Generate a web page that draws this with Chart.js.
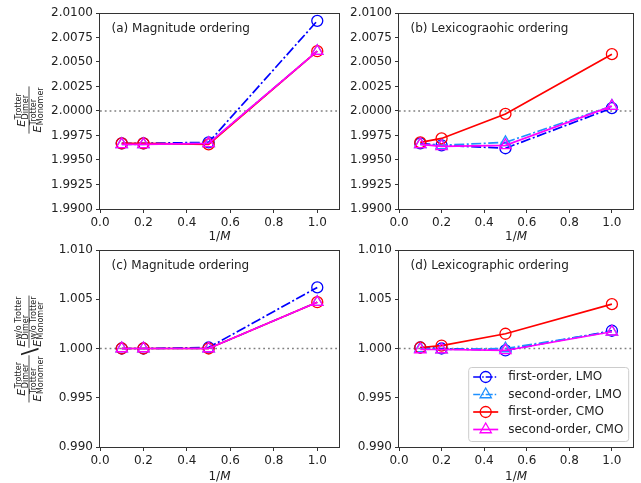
<!DOCTYPE html>
<html>
<head>
<meta charset="utf-8">
<script src="https://cdn.jsdelivr.net/npm/chart.js@4.4.1/dist/chart.umd.min.js"></script>
<style>
  body { margin: 0; background: #fff; }
  #wrap { position: relative; width: 641px; height: 483px; }
  canvas { position: absolute; left: 0; top: 0; }
</style>
</head>
<body>
<div id="wrap">
  <canvas id="ca" width="641" height="483"></canvas>
  <canvas id="cb" width="641" height="483"></canvas>
  <canvas id="cc" width="641" height="483"></canvas>
  <canvas id="cd" width="641" height="483"></canvas>
</div>
<script>
// data
var invM = [0.1, 0.2, 0.5, 1.0];
var xTicks = [0.0, 0.2, 0.4, 0.6, 0.8, 1.0];
var xMax = 1.1;
var yTicksTop = [1.9900, 1.9925, 1.9950, 1.9975, 2.0000, 2.0025, 2.0050, 2.0075, 2.0100];
var yTicksBottom = [0.990, 0.995, 1.000, 1.005, 1.010];

var seriesNames = ['first-order, LMO', 'second-order, LMO', 'first-order, CMO', 'second-order, CMO'];

// (a) magnitude ordering, Trotter ratio
var aFirstLMO  = [1.9967, 1.9967, 1.9968, 2.0092];
var aSecondLMO = [1.9966, 1.9966, 1.9967, 2.0061];
var aFirstCMO  = [1.9967, 1.9967, 1.9966, 2.0061];
var aSecondCMO = [1.9966, 1.9966, 1.9967, 2.0061];
// (b) lexicographic ordering, Trotter ratio
var bFirstLMO  = [1.9967, 1.9965, 1.9962, 2.0003];
var bSecondLMO = [1.9966, 1.9965, 1.9968, 2.0005];
var bFirstCMO  = [1.9968, 1.9972, 1.9997, 2.0058];
var bSecondCMO = [1.9966, 1.9964, 1.9965, 2.0005];
// (c) magnitude ordering, normalised
var cFirstLMO  = [1.0000, 1.0000, 1.0001, 1.0062];
var cSecondLMO = [1.0000, 1.0000, 1.0000, 1.0047];
var cFirstCMO  = [1.0000, 1.0000, 1.0000, 1.0047];
var cSecondCMO = [1.0000, 1.0000, 1.0000, 1.0047];
// (d) lexicographic ordering, normalised
var dFirstLMO  = [1.0001, 1.0000, 0.9998, 1.0018];
var dSecondLMO = [1.0000, 0.9999, 1.0000, 1.0017];
var dFirstCMO  = [1.0001, 1.0003, 1.0015, 1.0045];
var dSecondCMO = [0.9999, 0.9999, 0.9998, 1.0017];

// styles
var dashDot = [10, 2.5, 2, 2.5];
var seriesStyle = [
    { color: '#0000ff', dash: dashDot, point: 'circle', r: 5.5 },
    { color: '#1e90ff', dash: dashDot, point: 'triangle', r: 6.5 },
    { color: '#ff0000', dash: [], point: 'circle', r: 5.5 },
    { color: '#ff00ff', dash: [], point: 'triangle', r: 6.5 }
];
var FONT = '"DejaVu Sans", sans-serif';
var TEXT = '#222';

window.onload = function () {
    drawPanel('ca', {
        series: [aFirstLMO, aSecondLMO, aFirstCMO, aSecondCMO], ref: 2.0,
        yTicks: yTicksTop, digits: 4, yWidth: 100,
        pad: { left: 0, right: 302, top: 13, bottom: 243 },
        title: '(a) Magnitude ordering', yLabel: 'top', labelCY: 110, xLabelY: 237
    });
    drawPanel('cb', {
        series: [bFirstLMO, bSecondLMO, bFirstCMO, bSecondCMO], ref: 2.0,
        yTicks: yTicksTop, digits: 4, yWidth: 54,
        pad: { left: 345, right: 4, top: 13, bottom: 243 },
        title: '(b) Lexicograohic ordering', xLabelY: 237
    });
    drawPanel('cc', {
        series: [cFirstLMO, cSecondLMO, cFirstCMO, cSecondCMO], ref: 1.0,
        yTicks: yTicksBottom, digits: 3, yWidth: 100,
        pad: { left: 0, right: 302, top: 250, bottom: 5 },
        title: '(c) Magnitude ordering', yLabel: 'bottom', labelCY: 349, xLabelY: 477
    });
    drawPanel('cd', {
        series: [dFirstLMO, dSecondLMO, dFirstCMO, dSecondCMO], ref: 1.0,
        yTicks: yTicksBottom, digits: 3, yWidth: 54,
        pad: { left: 345, right: 4, top: 250, bottom: 5 },
        title: '(d) Lexicographic ordering', legend: true, xLabelY: 477
    });
}

function drawPanel(id, cfg) {
    var datasets = cfg.series.map(function (vals, i) {
        var st = seriesStyle[i];
        return {
            label: seriesNames[i],
            data: invM.map(function (x, k) { return { x: x, y: vals[k] }; }),
            borderColor: st.color,
            borderWidth: 1.7,
            borderDash: st.dash,
            pointStyle: st.point,
            pointRadius: st.r,
            pointBorderColor: st.color,
            pointBackgroundColor: 'rgba(0,0,0,0)',
            pointBorderWidth: 1.3,
            tension: 0,
            clip: false,
            order: 3 - i
        };
    });
    // dotted reference line
    datasets.push({
        label: 'ref',
        data: [{ x: 0, y: cfg.ref }, { x: xMax, y: cfg.ref }],
        borderColor: '#808080',
        borderWidth: 1.5,
        borderDash: [1.8, 3],
        pointRadius: 0,
        order: 10
    });

    var yMin = cfg.yTicks[0], yMax = cfg.yTicks[cfg.yTicks.length - 1];

    new Chart(document.getElementById(id), {
        type: 'line',
        data: { datasets: datasets },
        options: {
            responsive: false,
            animation: false,
            devicePixelRatio: 1,
            events: [],
            layout: { padding: cfg.pad },
            plugins: { legend: { display: false }, tooltip: { enabled: false } },
            scales: {
                x: {
                    type: 'linear', min: 0, max: xMax,
                    afterBuildTicks: function (s) { s.ticks = xTicks.map(function (v) { return { value: v }; }); },
                    afterFit: function (s) { s.height = 31; },
                    grid: { drawOnChartArea: false, drawTicks: true, tickLength: 4, tickColor: '#333', tickWidth: 1 },
                    border: { display: false },
                    ticks: {
                        padding: 3, color: TEXT, font: { family: FONT, size: 12 }, maxRotation: 0,
                        callback: function (v) { return Number(v).toFixed(1); }
                    }
                },
                y: {
                    type: 'linear', min: yMin, max: yMax,
                    afterBuildTicks: function (s) { s.ticks = cfg.yTicks.map(function (v) { return { value: v }; }); },
                    afterFit: function (s) { s.width = cfg.yWidth; },
                    grid: { drawOnChartArea: false, drawTicks: true, tickLength: 4, tickColor: '#333', tickWidth: 1 },
                    border: { display: false },
                    ticks: {
                        padding: 3, color: TEXT, font: { family: FONT, size: 12 },
                        callback: function (v) { return Number(v).toFixed(cfg.digits); }
                    }
                }
            }
        },
        plugins: [decor(cfg)]
    });
}

// E with stacked super/subscript, returns its width
function drawE(ctx, x, y, sup, sub, measureOnly) {
    ctx.font = 'italic 11px ' + FONT;
    var ew = ctx.measureText('E').width;
    if (!measureOnly) ctx.fillText('E', x, y);
    ctx.font = '8px ' + FONT;
    var sw = Math.max(ctx.measureText(sup).width, ctx.measureText(sub).width);
    if (!measureOnly) {
        ctx.fillText(sup, x + ew + 0.5, y - 4.5);
        ctx.fillText(sub, x + ew + 0.5, y + 2.5);
    }
    return ew + 0.5 + sw;
}

function drawFrac(ctx, x, top, bot, measureOnly) {
    var wn = drawE(ctx, 0, 0, top[0], top[1], true);
    var wd = drawE(ctx, 0, 0, bot[0], bot[1], true);
    var w = Math.max(wn, wd) + 2;
    if (!measureOnly) {
        drawE(ctx, x + (w - wn) / 2, -3.6, top[0], top[1]);
        drawE(ctx, x + (w - wd) / 2, 11.8, bot[0], bot[1]);
        ctx.fillRect(x, -0.4, w, 0.8);
    }
    return w;
}

function drawYLabel(ctx, kind, cx, cy) {
    ctx.save();
    ctx.translate(cx, cy);
    ctx.rotate(-Math.PI / 2);
    ctx.fillStyle = TEXT;
    ctx.textBaseline = 'alphabetic';
    ctx.textAlign = 'left';
    var f1 = [['Trotter', 'Dimer'], ['Trotter', 'Monomer']];
    var f2 = [['w/o Trotter', 'Dimer'], ['w/o Trotter', 'Monomer']];
    if (kind === 'top') {
        var w = drawFrac(ctx, 0, f1[0], f1[1], true);
        drawFrac(ctx, -w / 2, f1[0], f1[1]);
    } else {
        var w1 = drawFrac(ctx, 0, f1[0], f1[1], true);
        var w2 = drawFrac(ctx, 0, f2[0], f2[1], true);
        ctx.font = '22px ' + FONT;
        var ws = ctx.measureText('\\').width;
        var total = w1 + ws + w2;
        var x0 = -total / 2;
        drawFrac(ctx, x0, f1[0], f1[1]);
        ctx.font = '22px ' + FONT;
        ctx.fillText('\\', x0 + w1, 8);
        drawFrac(ctx, x0 + w1 + ws, f2[0], f2[1]);
    }
    ctx.restore();
}

function drawLegend(ctx, a) {
    var bw = 160, bh = 74;
    var bx = a.right - 5 - bw, by = a.bottom - 6 - bh;
    ctx.save();
    ctx.beginPath();
    if (ctx.roundRect) ctx.roundRect(bx + 0.5, by + 0.5, bw, bh, 3); else ctx.rect(bx + 0.5, by + 0.5, bw, bh);
    ctx.fillStyle = 'rgba(255,255,255,0.8)';
    ctx.fill();
    ctx.strokeStyle = '#cccccc';
    ctx.lineWidth = 1;
    ctx.stroke();
    for (var i = 0; i < seriesNames.length; i++) {
        var st = seriesStyle[i];
        var y = by + 10 + i * 17.5;
        ctx.strokeStyle = st.color;
        ctx.lineWidth = 1.7;
        ctx.setLineDash(st.dash.length ? [7, 2, 1.5, 2] : []);
        ctx.beginPath();
        ctx.moveTo(bx + 5, y);
        ctx.lineTo(bx + 30, y);
        ctx.stroke();
        ctx.setLineDash([]);
        ctx.lineWidth = 1.3;
        ctx.fillStyle = 'rgba(0,0,0,0)';
        Chart.helpers.drawPoint(ctx, { pointStyle: st.point, radius: st.r, borderWidth: 1.3 }, bx + 17.5, y);
        ctx.fillStyle = TEXT;
        ctx.font = '12px ' + FONT;
        ctx.textBaseline = 'middle';
        ctx.textAlign = 'left';
        ctx.fillText(seriesNames[i], bx + 40, y);
    }
    ctx.restore();
}

function decor(cfg) {
    return {
        id: 'decor',
        afterDraw: function (chart) {
            var ctx = chart.ctx, a = chart.chartArea;
            ctx.save();
            // axes frame
            var l = Math.round(a.left) - 0.5, t = Math.round(a.top) + 0.5;
            var r = Math.round(a.right) + 0.5, b = Math.round(a.bottom) + 0.5;
            ctx.strokeStyle = '#333';
            ctx.lineWidth = 1;
            ctx.strokeRect(l, t, r - l, b - t);
            // panel title
            ctx.fillStyle = TEXT;
            ctx.font = '12px ' + FONT;
            ctx.textBaseline = 'middle';
            ctx.textAlign = 'left';
            ctx.fillText(cfg.title, a.left + 11.5, a.top + 16);
            // x label 1/M
            var cx = (a.left + a.right) / 2;
            ctx.font = '12px ' + FONT;
            var w1 = ctx.measureText('1/').width;
            ctx.font = 'italic 12px ' + FONT;
            var w2 = ctx.measureText('M').width;
            var x0 = cx - (w1 + w2) / 2;
            ctx.font = '12px ' + FONT;
            ctx.fillText('1/', x0, cfg.xLabelY);
            ctx.font = 'italic 12px ' + FONT;
            ctx.fillText('M', x0 + w1, cfg.xLabelY);
            ctx.restore();
            if (cfg.yLabel) drawYLabel(ctx, cfg.yLabel, 29, cfg.labelCY);
            if (cfg.legend) drawLegend(ctx, a);
        }
    };
}
</script>
</body>
</html>
